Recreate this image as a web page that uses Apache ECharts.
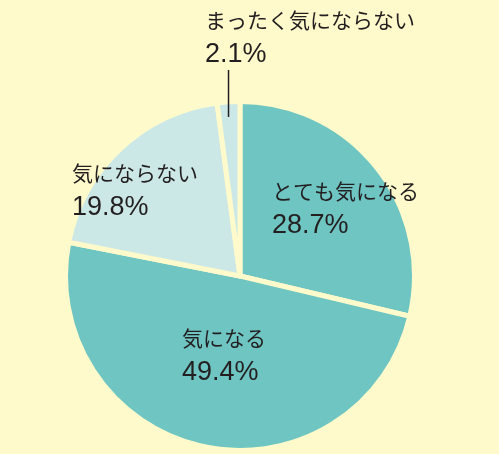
<!DOCTYPE html>
<html>
<head>
<meta charset="utf-8">
<script src="https://cdn.jsdelivr.net/npm/echarts@6/dist/echarts.min.js"></script>
<style>
html,body{margin:0;padding:0;background:#fffacb;}
#c{width:499px;height:454px;}
</style>
</head>
<body>
<div id="c"></div>
<script>
const categories = ['とても気になる', '気になる', '気にならない', 'まったく気にならない'];
const values = [28.7, 49.4, 19.8, 2.1];
const sliceColors = ['#6ec5c2', '#6ec5c2', '#cce8e6', '#cce8e6'];
// label anchor (left x, vertical middle y) per slice
const labelAnchors = [[272, 208], [182, 355], [72, 190], [205, 37]];

const richStyles = {
  a: {
    fontFamily: '"Noto Sans CJK JP", "Noto Sans", sans-serif',
    fontSize: 21, lineHeight: 35, color: '#231f20'
  },
  b: {
    fontFamily: '"Liberation Sans", Arial, sans-serif',
    fontSize: 27, lineHeight: 33, color: '#231f20'
  }
};

const chart = echarts.init(document.getElementById('c'));
chart.setOption({
  backgroundColor: '#fffacb',
  animation: false,
  series: [{
    // slices
    type: 'pie',
    z: 2,
    center: [240, 276],
    radius: [0, 174.5],
    startAngle: 90,
    clockwise: true,
    avoidLabelOverlap: false,
    itemStyle: { borderColor: '#fffacb', borderWidth: 5 },
    label: {
      show: true,
      position: 'outside',
      formatter: p => '{a|' + p.name + '}\n{b|' + p.value.toFixed(1) + '%}',
      align: 'left',
      rich: richStyles
    },
    labelLine: { show: false },
    labelLayout: function (params) {
      const i = params.dataIndex;
      return {
        x: labelAnchors[i][0],
        y: labelAnchors[i][1],
        align: 'left',
        verticalAlign: 'middle'
      };
    },
    data: categories.map((c, i) => ({
      name: c,
      value: values[i],
      itemStyle: { color: sliceColors[i] }
    }))
  }, {
    // transparent overlay that only draws the leader line of the smallest slice
    type: 'pie',
    z: 5,
    center: [240, 276],
    radius: [0, 174.5],
    startAngle: 90,
    clockwise: true,
    silent: true,
    avoidLabelOverlap: false,
    itemStyle: { color: 'rgba(0,0,0,0)', borderWidth: 0 },
    label: { show: false },
    labelLine: { show: false, showAbove: true },
    labelLayout: function (params) {
      if (params.dataIndex !== 3) return {};
      const r = params.rect;
      const lx = r.x + r.width / 2;
      return {
        labelLinePoints: [[lx, r.y + 15.5], [lx, r.y - 31.5], [lx, r.y - 31.5]]
      };
    },
    data: categories.map((c, i) => ({
      name: c,
      value: values[i],
      label: i === 3 ? { show: true, position: 'outside', formatter: ' ', color: 'rgba(0,0,0,0)' } : { show: false },
      labelLine: i === 3
        ? { show: true, showAbove: true, length: 20, length2: 0, lineStyle: { color: '#231f20', width: 1.5 } }
        : { show: false }
    }))
  }]
});
</script>
</body>
</html>
